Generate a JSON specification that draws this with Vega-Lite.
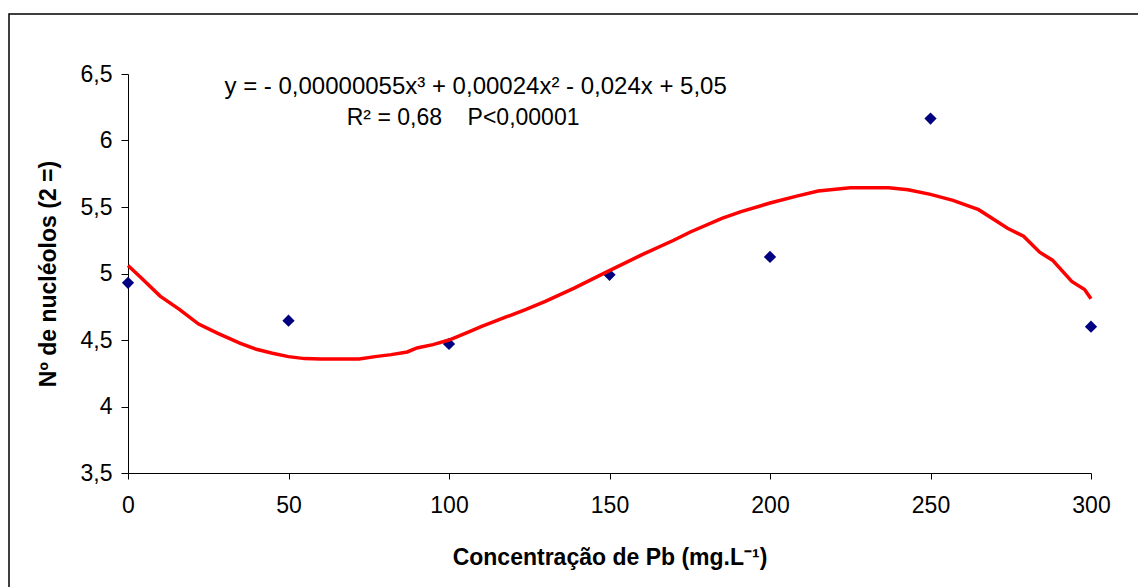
{
  "$schema": "https://vega.github.io/schema/vega-lite/v6.json",
  "width": 1135,
  "height": 580,
  "autosize": {"type": "none"},
  "padding": {"left": 9, "top": 14, "right": 0, "bottom": 0},
  "background": "white",
  "config": {
    "font": "Liberation Sans",
    "view": {"stroke": "black", "strokeWidth": 1.5}
  },
  "datasets": {
    "obs": [
      {"conc": 0, "nucleolos": 4.93},
      {"conc": 50, "nucleolos": 4.645},
      {"conc": 100, "nucleolos": 4.47},
      {"conc": 150, "nucleolos": 4.99},
      {"conc": 200, "nucleolos": 5.125},
      {"conc": 250, "nucleolos": 6.165},
      {"conc": 300, "nucleolos": 4.60}
    ],
    "fit": [
      {"conc": 0, "nucleolos": 5.06},
      {"conc": 4, "nucleolos": 4.97},
      {"conc": 10, "nucleolos": 4.83},
      {"conc": 16, "nucleolos": 4.73},
      {"conc": 22, "nucleolos": 4.62},
      {"conc": 28, "nucleolos": 4.55},
      {"conc": 35, "nucleolos": 4.475},
      {"conc": 40, "nucleolos": 4.43},
      {"conc": 45, "nucleolos": 4.40},
      {"conc": 50, "nucleolos": 4.375},
      {"conc": 55, "nucleolos": 4.36},
      {"conc": 60, "nucleolos": 4.357},
      {"conc": 65, "nucleolos": 4.357},
      {"conc": 72, "nucleolos": 4.357},
      {"conc": 77, "nucleolos": 4.375},
      {"conc": 82, "nucleolos": 4.39},
      {"conc": 87, "nucleolos": 4.41},
      {"conc": 90, "nucleolos": 4.44},
      {"conc": 95, "nucleolos": 4.465},
      {"conc": 100, "nucleolos": 4.50},
      {"conc": 106, "nucleolos": 4.56},
      {"conc": 110, "nucleolos": 4.60},
      {"conc": 118, "nucleolos": 4.675},
      {"conc": 124, "nucleolos": 4.73},
      {"conc": 130, "nucleolos": 4.79},
      {"conc": 139, "nucleolos": 4.89},
      {"conc": 149, "nucleolos": 5.01},
      {"conc": 160, "nucleolos": 5.14},
      {"conc": 170, "nucleolos": 5.25},
      {"conc": 175, "nucleolos": 5.31},
      {"conc": 185, "nucleolos": 5.415},
      {"conc": 191, "nucleolos": 5.465},
      {"conc": 200, "nucleolos": 5.53},
      {"conc": 208, "nucleolos": 5.58},
      {"conc": 215, "nucleolos": 5.62},
      {"conc": 225, "nucleolos": 5.645},
      {"conc": 237, "nucleolos": 5.645},
      {"conc": 243, "nucleolos": 5.63},
      {"conc": 250, "nucleolos": 5.595},
      {"conc": 257, "nucleolos": 5.55},
      {"conc": 265, "nucleolos": 5.48},
      {"conc": 274, "nucleolos": 5.34},
      {"conc": 279, "nucleolos": 5.28},
      {"conc": 284, "nucleolos": 5.16},
      {"conc": 288, "nucleolos": 5.10},
      {"conc": 294, "nucleolos": 4.94},
      {"conc": 298, "nucleolos": 4.88},
      {"conc": 300, "nucleolos": 4.81}
    ],
    "equation": [
      {"label": "y = - 0,00000055x³ + 0,00024x² - 0,024x + 5,05"}
    ],
    "stats": [
      {"label": "R² = 0,68\u00a0\u00a0\u00a0\u00a0P<0,00001"}
    ]
  },
  "layer": [
    {
      "data": {"name": "obs"},
      "mark": {"type": "point", "shape": "diamond", "filled": true, "size": 150, "color": "#000080", "opacity": 1},
      "encoding": {
        "x": {
          "field": "conc",
          "type": "quantitative",
          "scale": {"domain": [0, 300], "range": [119, 1082], "nice": false, "zero": false},
          "axis": {
            "title": "Concentração de Pb (mg.L⁻¹)",
            "values": [0, 50, 100, 150, 200, 250, 300],
            "offset": -121,
            "grid": false,
            "domainColor": "black",
            "tickColor": "black",
            "tickSize": 6,
            "labelFontSize": 23,
            "labelColor": "black",
            "labelPadding": 15,
            "labelFlush": false,
            "labelOverlap": false,
            "titleFontSize": 23,
            "titleFontWeight": "bold",
            "titleColor": "black",
            "titlePadding": 29
          }
        },
        "y": {
          "field": "nucleolos",
          "type": "quantitative",
          "scale": {"domain": [3.5, 6.5], "range": [459, 60], "nice": false, "zero": false},
          "axis": {
            "title": "Nº de nucléolos (2 =)",
            "values": [3.5, 4, 4.5, 5, 5.5, 6, 6.5],
            "format": "~g",
            "labelExpr": "replace(datum.label, '.', ',')",
            "offset": -119,
            "grid": false,
            "domainColor": "black",
            "tickColor": "black",
            "tickSize": 7,
            "labelFontSize": 23,
            "labelColor": "black",
            "labelPadding": 9,
            "labelFlush": false,
            "labelOverlap": false,
            "titleFontSize": 23,
            "titleFontWeight": "bold",
            "titleColor": "black",
            "titlePadding": 20
          }
        }
      }
    },
    {
      "data": {"name": "fit"},
      "mark": {"type": "line", "color": "#FF0000", "strokeWidth": 3.5},
      "encoding": {
        "x": {"field": "conc", "type": "quantitative"},
        "y": {"field": "nucleolos", "type": "quantitative"}
      }
    },
    {
      "data": {"name": "equation"},
      "mark": {"type": "text", "fontSize": 24, "color": "black", "align": "center", "baseline": "middle"},
      "encoding": {
        "x": {"datum": 108.3, "type": "quantitative"},
        "y": {"datum": 6.40, "type": "quantitative"},
        "text": {"field": "label", "type": "nominal"}
      }
    },
    {
      "data": {"name": "stats"},
      "mark": {"type": "text", "fontSize": 23, "color": "black", "align": "center", "baseline": "middle"},
      "encoding": {
        "x": {"datum": 104.4, "type": "quantitative"},
        "y": {"datum": 6.17, "type": "quantitative"},
        "text": {"field": "label", "type": "nominal"}
      }
    }
  ]
}
